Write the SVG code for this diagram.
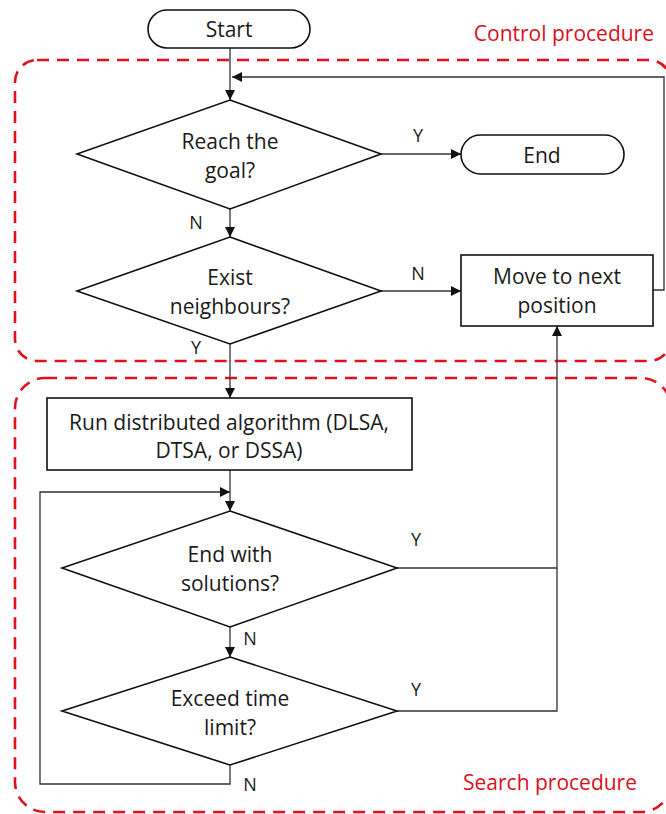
<svg xmlns="http://www.w3.org/2000/svg" width="666" height="814" viewBox="0 0 666 814">
  <defs>
    <marker id="arrow" viewBox="0 0 10 10" refX="10" refY="5" markerWidth="10" markerHeight="10" markerUnits="userSpaceOnUse" orient="auto">
      <path d="M0,0 L10,5 L0,10 z" fill="#111"/>
    </marker>
    <style>
      .txt { font-family: "Open Sans", "Liberation Sans", sans-serif; font-size: 21px; fill: #1a1a1a; text-anchor: middle; dominant-baseline: central; }
      .lbl { font-family: "Open Sans", "Liberation Sans", sans-serif; font-size: 18px; fill: #1a1a1a; text-anchor: middle; dominant-baseline: central; }
      .red { font-family: "Open Sans", "Liberation Sans", sans-serif; font-size: 21px; fill: #d8101c; text-anchor: end; dominant-baseline: central; }
      .shape { fill: #fff; stroke: #111; stroke-width: 1.6; }
      .zone { fill: none; stroke: #e0101c; stroke-width: 2.6; stroke-dasharray: 12 8; }
      .edge { fill: none; stroke: #333; stroke-width: 1.3; }
    </style>
  </defs>

  <rect width="666" height="814" fill="#fff"/>

  <!-- procedure zones -->
  <g id="zones">
    <rect class="zone" x="15" y="60" width="656" height="301" rx="22"/>
    <rect class="zone" x="15" y="378" width="656" height="434" rx="30"/>
    <text class="red" x="654" y="33">Control procedure</text>
    <text class="red" x="637" y="782">Search procedure</text>
  </g>

  <!-- connectors -->
  <g id="connectors">
    <path class="edge" d="M230,48 V100" marker-end="url(#arrow)"/>
    <path class="edge" d="M653,290 H664 V77 H232" marker-end="url(#arrow)"/>
    <path class="edge" d="M381,154 H461" marker-end="url(#arrow)"/>
    <path class="edge" d="M230,209 V237" marker-end="url(#arrow)"/>
    <path class="edge" d="M381,291 H461" marker-end="url(#arrow)"/>
    <path class="edge" d="M230,344 V398" marker-end="url(#arrow)"/>
    <path class="edge" d="M230,470 V511" marker-end="url(#arrow)"/>
    <path class="edge" d="M397,568 H557 V326" marker-end="url(#arrow)"/>
    <path class="edge" d="M397,711 H557 V568"/>
    <path class="edge" d="M230,627 V657" marker-end="url(#arrow)"/>
    <path class="edge" d="M230,765 V784 H40 V492 H230" marker-end="url(#arrow)"/>
    <text class="lbl" x="418" y="135">Y</text>
    <text class="lbl" x="196" y="222">N</text>
    <text class="lbl" x="418" y="273">N</text>
    <text class="lbl" x="196" y="347">Y</text>
    <text class="lbl" x="416" y="539">Y</text>
    <text class="lbl" x="250" y="638">N</text>
    <text class="lbl" x="416" y="689">Y</text>
    <text class="lbl" x="250" y="784">N</text>
  </g>

  <g id="start">
    <rect class="shape" x="148" y="10" width="162" height="38" rx="19"/>
    <text class="txt" x="229" y="29">Start</text>
  </g>

  <g id="reach-goal">
    <polygon class="shape" points="230,100 381,154 230,209 77,154"/>
    <text class="txt" x="230" y="141">Reach the</text>
    <text class="txt" x="230" y="170">goal?</text>
  </g>

  <g id="end">
    <rect class="shape" x="461" y="135" width="163" height="39" rx="19.5"/>
    <text class="txt" x="542" y="155">End</text>
  </g>

  <g id="exist-neighbours">
    <polygon class="shape" points="230,237 381,291 230,344 77,291"/>
    <text class="txt" x="230" y="277">Exist</text>
    <text class="txt" x="230" y="306">neighbours?</text>
  </g>

  <g id="move-next">
    <rect class="shape" x="461" y="255" width="192" height="71"/>
    <text class="txt" x="557" y="276">Move to next</text>
    <text class="txt" x="557" y="305">position</text>
  </g>

  <g id="run-algorithm">
    <rect class="shape" x="47" y="398" width="365" height="72"/>
    <text class="txt" x="229" y="422">Run distributed algorithm (DLSA,</text>
    <text class="txt" x="229" y="450">DTSA, or DSSA)</text>
  </g>

  <g id="end-with-solutions">
    <polygon class="shape" points="230,511 397,568 230,627 62,568"/>
    <text class="txt" x="230" y="554">End with</text>
    <text class="txt" x="230" y="583">solutions?</text>
  </g>

  <g id="exceed-time">
    <polygon class="shape" points="230,657 397,711 230,765 62,711"/>
    <text class="txt" x="230" y="698">Exceed time</text>
    <text class="txt" x="230" y="727">limit?</text>
  </g>
</svg>
